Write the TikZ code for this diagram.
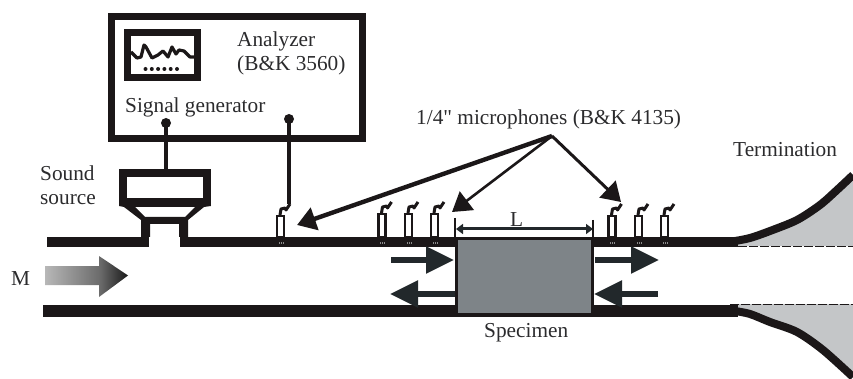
\documentclass[tikz,border=0pt]{standalone}
\usepackage{fontspec}
\setmainfont{Liberation Serif}
\newfontfamily\plainquote{Liberation Serif}
\usetikzlibrary{arrows.meta}
\definecolor{ink}{HTML}{1B1718}
\definecolor{txt}{HTML}{2B2B2D}
\definecolor{blockc}{HTML}{22282B}
\definecolor{spec}{HTML}{7E8488}
\definecolor{flare}{HTML}{C4C6C8}
\pgfdeclarehorizontalshading{marrowshade}{100bp}{color(0bp)=(black!28); color(25bp)=(black!28); color(58bp)=(black!58); color(75bp)=(black!90); color(100bp)=(black!90)}
\tikzset{
  x=1pt,y=-1pt,
  lbl/.style={anchor=base west,inner sep=0pt,text=txt,font=\fontsize{21.3}{24}\selectfont},
  micbody/.style={draw=ink,fill=white,line width=2.6pt},
  squig/.style={draw=ink,line width=3pt,line join=round},
  wire/.style={draw=ink,line width=4.4pt},
  pipe/.style={fill=ink},
  callout/.style={draw=ink,-{Triangle[length=#1*5.2pt,width=#1*6.4pt]}},
  bigblock/.style={draw=blockc,line width=5.5pt,-{Triangle[length=28pt,width=26pt]}},
  dim/.style={draw=blockc,line width=3pt,{Triangle[length=7pt,width=10pt]}-{Triangle[length=7pt,width=10pt]}},
  tick/.style={draw=ink,line width=1.4pt},
  dashline/.style={draw=ink,line width=1.4pt,dash pattern=on 9pt off 2pt},
}
\begin{document}
\begin{tikzpicture}
\useasboundingbox (0,0) rectangle (853,379);
% flares
\fill[flare] plot[smooth] coordinates {(735,240) (770,231) (797,220) (820,205) (837,190) (853,175)} -- (853,246) -- (735,246) -- cycle;
\fill[flare] plot[smooth] coordinates {(735,309) (770,322) (797,332) (823,350) (853,377)} -- (853,304) -- (735,304) -- cycle;
\draw[ink,line width=8pt] plot[smooth] coordinates {(735,241) (750,238) (770,231) (797,220) (820,205) (837,190) (853,175)};
\draw[ink,line width=8pt] plot[smooth] coordinates {(735,311) (750,314) (770,322) (797,332) (823,350) (853,377)};
\draw[dashline] (727,246.5) -- (853,246.5);
\draw[dashline] (730,304.5) -- (853,304.5);
% pipes
\fill[pipe] (47,237) rectangle (149,247);
\fill[pipe] (180,237) rectangle (456,247);
\fill[pipe] (593,237) rectangle (738,247);
\fill[pipe] (43,305) rectangle (738,317);
% sound source
\draw[ink,line width=8pt,fill=white] (123,173) rectangle (207,202);
\fill[pipe,even odd rule] (119,206) -- (211,206) -- (204,207) -- (188,220) -- (188,237) -- (179,237) -- (179,224) -- (150,224) -- (150,237) -- (141,237) -- (141,220) -- (124,207) -- cycle
  (135,207) -- (195,207) -- (185,217) -- (145,217) -- cycle;
% analyzer
\node[draw=ink,line width=7pt,minimum width=251pt,minimum height=122pt,inner sep=0pt] (analyzer) at (236.5,78) {};
\node[draw=ink,line width=7pt,minimum width=70pt,minimum height=45pt,inner sep=0pt] (screen) at (162,55) {};
\draw[ink,line width=3.2pt,line join=round] (131,52) -- (137,58) -- (141,57) -- (144,45) -- (146,47) -- (152,58) -- (158,55) -- (163,51) -- (168,57) -- (172,47) -- (176,54) -- (179,50) -- (184,51) -- (190,57) -- (194,57);
\foreach \i in {0,...,5} \fill[ink] (145.5+\i*6.3,69) circle (2pt);
% labels
\node[lbl] (lanalyzer) at (237,47) {Analyzer};
\node[lbl] (lbk) at (237,71) {(B\&K 3560)};
\node[lbl] (lsig) at (125,113) {Signal generator};
\node[lbl] (lsound) at (40,181) {Sound};
\node[lbl] (lsource) at (40,205) {source};
\node[lbl] (lmic) at (416,125) {1/4{\plainquote"} microphones (B\&K 4135)};
\node[lbl] (lterm) at (733,157) {Termination};
\node[lbl] (lm) at (11,285) {M};
\node[lbl] (ll) at (510,227) {L};
\node[lbl] (lspec) at (484,337) {Specimen};
% wires
\coordinate (gen) at (166,123);
\fill[ink] (gen) circle (5pt);
\draw[wire] (gen) -- (166,169);
\coordinate (anain) at (289,119);
\fill[ink] (anain) circle (5pt);
\coordinate (anaout) at (289,204);
\draw[wire] (anain) -- (anaout);
% microphones
\foreach \n/\mx/\my in {a/276/215,b/377.5/213,c/404/213,d/430/213,e/607.5/215,f/634/215,g/660/215}{
  \draw[micbody] (\mx+1,\my+1) rectangle (\mx+8,237);
  \draw[squig] (\mx+4,\my) -- (\mx+5,\my-6) -- (\mx+9,\my-7) -- (\mx+10,\my-5) -- (\mx+14,\my-11);
  \foreach \d in {0,2,4} \fill[black!45] (\mx+2.5+\d,242) rectangle +(0.8,2);
}
% specimen
\node[draw=ink,fill=spec,line width=3pt,minimum width=136pt,minimum height=76pt,inner sep=0pt] (specimen) at (524.5,276.5) {};
\draw[tick] (455,218) -- (455,237);
\draw[tick] (593,220) -- (593,237);
\coordinate (dl) at (456,229); \coordinate (dr) at (593,229);
\draw[dim] (dl) -- (dr);
% callouts
\coordinate (apex) at (552,136);
\coordinate (t1) at (297,225);
\coordinate (t2) at (452,212);
\coordinate (t3) at (621,202);
\draw[callout=3.6,line width=4.4pt] (apex) -- (t1);
\draw[callout=3.6,line width=2.6pt] (apex) -- (t2);
\draw[callout=3.6,line width=3pt] (apex) -- (t3);
% wave arrows
\coordinate (a1) at (391,260); \coordinate (a2) at (454,260);
\coordinate (b1) at (455,294); \coordinate (b2) at (390,294);
\coordinate (c1) at (595,260); \coordinate (c2) at (659,260);
\coordinate (d1) at (658,294); \coordinate (d2) at (594,294);
\draw[bigblock] (a1) -- (a2);
\draw[bigblock] (b1) -- (b2);
\draw[bigblock] (c1) -- (c2);
\draw[bigblock] (d1) -- (d2);
% flow arrow
\shade[shading=marrowshade] (45,266) -- (99,266) -- (99,256) -- (128,275.5) -- (99,297) -- (99,285) -- (45,285) -- cycle;
\end{tikzpicture}
\end{document}
